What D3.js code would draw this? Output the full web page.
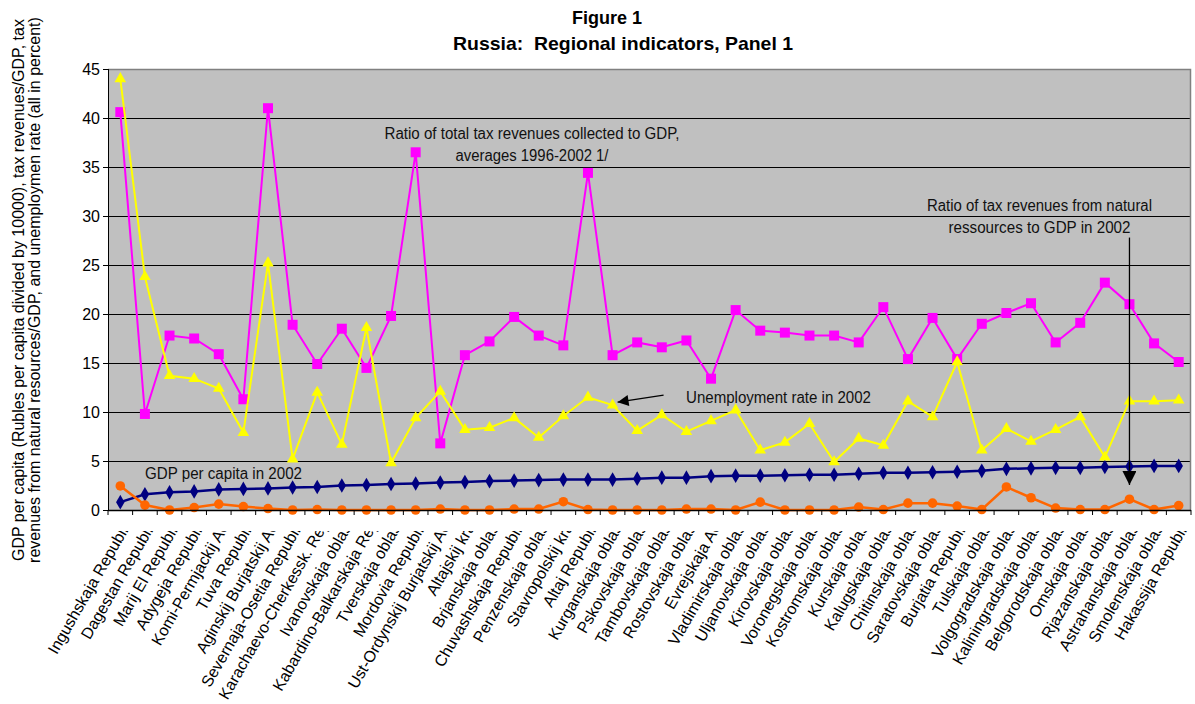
<!DOCTYPE html>
<html>
<head>
<meta charset="utf-8">
<script src="https://cdnjs.cloudflare.com/ajax/libs/d3/7.8.5/d3.min.js"></script>
<style>
  body { margin: 0; background: #fff; }
  svg { display: block; font-family: "Liberation Sans", Arial, sans-serif; }
  .axis text { font-size: 16px; fill: #000; }
  .axis .domain { display: none; }
  .cat-label { font-size: 16px; fill: #000; }
  .note { font-size: 16px; fill: #111; }
  .title { font-size: 19px; font-weight: bold; white-space: pre; }
  .y-title { font-size: 16px; }
</style>
</head>
<body>
<div id="chart"></div>
<script>
// Regions, sorted by GDP per capita
const regions = [
  'Ingushskaja Republic', 'Dagestan Republic', 'Marij El Republic', 'Adygeja Republic',
  'Komi-Permjackij AO', 'Tuva Republic', 'Aginskij Burjatskij AO', 'Severnaja-Osetia Republic',
  'Karachaevo-Cherkessk. Rep', 'Ivanovskaja oblast', 'Kabardino-Balkarskaja Rep', 'Tverskaja oblast',
  'Mordovia Republic', 'Ust-Ordynskij Burjatskij AO', 'Altajskij krai', 'Brjanskaja oblast',
  'Chuvashskaja Republic', 'Penzenskaja oblast', 'Stavropolskij krai', 'Altaj Republic',
  'Kurganskaja oblast', 'Pskovskaja oblast', 'Tambovskaja oblast', 'Rostovskaja oblast',
  'Evrejskaja AO', 'Vladimirskaja oblast', 'Uljanovskaja oblast', 'Kirovskaja oblast',
  'Voronegskaja oblast', 'Kostromskaja oblast', 'Kurskaja oblast', 'Kalugskaja oblast',
  'Chitinskaja oblast', 'Saratovskaja oblast', 'Burjatia Republic', 'Tulskaja oblast',
  'Volgogradskaja oblast', 'Kaliningradskaja oblast', 'Belgorodskaja oblast', 'Omskaja oblast',
  'Rjazanskaja oblast', 'Astrahanskaja oblast', 'Smolenskaja oblast', 'Hakassija Republic'
];

// Ratio of total tax revenues collected to GDP, averages 1996-2002
const taxRatio = [
  40.6, 9.8, 17.8, 17.5, 15.9, 11.3, 41.0, 18.9, 14.9, 18.5,
  14.5, 19.8, 36.5, 6.8, 15.8, 17.2, 19.7, 17.8, 16.8, 34.4,
  15.8, 17.1, 16.6, 17.3, 13.4, 20.4, 18.3, 18.1, 17.8, 17.8,
  17.1, 20.7, 15.4, 19.6, 15.4, 19.0, 20.1, 21.1, 17.1, 19.1,
  23.2, 21.0, 17.0, 15.1
];

// Unemployment rate in 2002
const unemployment = [
  44.0, 23.8, 13.7, 13.4, 12.4, 7.9, 25.2, 5.2, 12.0, 6.7,
  18.6, 4.8, 9.4, 12.1, 8.2, 8.4, 9.4, 7.4, 9.6, 11.5,
  10.7, 8.1, 9.7, 8.0, 9.1, 10.2, 6.1, 6.9, 8.8, 4.9,
  7.3, 6.6, 11.1, 9.5, 15.1, 6.1, 8.3, 7.0, 8.2, 9.5,
  5.4, 11.1, 11.1, 11.2
];

// GDP per capita in 2002 (rubles / 10000)
const gdpPerCapita = [
  0.8, 1.6, 1.8, 1.9, 2.1, 2.15, 2.2, 2.3, 2.35, 2.5,
  2.55, 2.65, 2.7, 2.8, 2.85, 2.95, 3.0, 3.05, 3.1, 3.1,
  3.1, 3.2, 3.3, 3.3, 3.45, 3.5, 3.5, 3.55, 3.6, 3.6,
  3.7, 3.8, 3.8, 3.85, 3.9, 4.0, 4.2, 4.25, 4.3, 4.3,
  4.4, 4.45, 4.5, 4.5
];

// Tax revenues from natural resources to GDP in 2002
const natResRatio = [
  2.45, 0.5, 0.0, 0.25, 0.6, 0.35, 0.15, 0.0, 0.05, 0.0,
  0.0, 0.0, 0.0, 0.1, 0.0, 0.0, 0.1, 0.1, 0.85, 0.05,
  0.0, 0.0, 0.0, 0.1, 0.1, 0.0, 0.8, 0.0, 0.0, 0.0,
  0.3, 0.05, 0.7, 0.7, 0.4, 0.05, 2.35, 1.25, 0.2, 0.05,
  0.05, 1.1, 0.05, 0.45
];

const yTicks = [0, 5, 10, 15, 20, 25, 30, 35, 40, 45];

class RegionalChart {

  constructor(_config) {
    this.config = {
      parentElement: _config.parentElement,
      containerWidth: _config.containerWidth || 1195,
      containerHeight: _config.containerHeight || 704,
      margin: _config.margin || {top: 69, right: 4, bottom: 194, left: 108},
      labelClipY: 531
    };
    // order = drawing order (bottom first)
    this.series = [
      {values: gdpPerCapita, color: '#000080', symbol: d3.symbolDiamond, size: 62, width: 2.5},
      {values: natResRatio, color: '#ff6600', symbol: d3.symbolCircle, size: 72, width: 2.5},
      {values: taxRatio, color: '#ff00ff', symbol: d3.symbolSquare, size: 100, width: 2},
      {values: unemployment, color: '#ffff00', symbol: d3.symbolTriangle, size: 58, width: 2}
    ];
    this.initVis();
  }

  initVis() {
    let vis = this;
    const m = vis.config.margin;
    vis.width = vis.config.containerWidth - m.left - m.right;
    vis.height = vis.config.containerHeight - m.top - m.bottom;

    vis.xScale = d3.scaleBand().domain(regions).range([0, vis.width]);
    vis.yScale = d3.scaleLinear().domain([0, 45]).range([vis.height, 0]);
    vis.bw = vis.xScale.bandwidth();

    vis.svg = d3.select(vis.config.parentElement).append('svg')
        .attr('width', vis.config.containerWidth)
        .attr('height', vis.config.containerHeight);

    const defs = vis.svg.append('defs');
    defs.append('clipPath').attr('id', 'label-clip')
      .append('rect')
        .attr('x', 0).attr('y', vis.config.labelClipY)
        .attr('width', vis.config.containerWidth)
        .attr('height', vis.config.containerHeight);

    defs.append('marker')
        .attr('id', 'head-small')
        .attr('viewBox', '0 0 10 10')
        .attr('refX', 10).attr('refY', 5)
        .attr('markerUnits', 'userSpaceOnUse')
        .attr('markerWidth', 14).attr('markerHeight', 11)
        .attr('orient', 'auto')
      .append('path').attr('d', 'M0,0L10,5L0,10Z').attr('fill', '#000');

    defs.append('marker')
        .attr('id', 'head-big')
        .attr('viewBox', '0 0 10 10')
        .attr('refX', 10).attr('refY', 5)
        .attr('markerUnits', 'userSpaceOnUse')
        .attr('markerWidth', 16).attr('markerHeight', 14)
        .attr('orient', 'auto')
      .append('path').attr('d', 'M0,0L10,5L0,10Z').attr('fill', '#000');

    // Titles
    vis.svg.append('text')
        .attr('class', 'title')
        .attr('x', 607).attr('y', 24)
        .attr('text-anchor', 'middle')
        .attr('textLength', 70).attr('lengthAdjust', 'spacingAndGlyphs')
        .text('Figure 1');
    vis.svg.append('text')
        .attr('class', 'title')
        .attr('x', 623).attr('y', 50)
        .attr('text-anchor', 'middle')
        .attr('textLength', 340).attr('lengthAdjust', 'spacingAndGlyphs')
        .text('Russia:  Regional indicators, Panel 1');

    // Y axis title in two lines
    const yTitle = [
      {text: 'GDP per capita (Rubles per capita divided by 10000), tax revenues/GDP, tax', x: 24},
      {text: 'revenues from natural resources/GDP, and unemploymen rate (all in percent)', x: 40}
    ];
    vis.svg.selectAll('.y-title')
        .data(yTitle)
        .join('text')
        .attr('class', 'y-title')
        .attr('transform', d => `translate(${d.x},290) rotate(-90)`)
        .attr('text-anchor', 'middle')
        .text(d => d.text);

    vis.chart = vis.svg.append('g')
        .attr('transform', `translate(${m.left},${m.top})`);

    vis.chart.append('rect')
        .attr('width', vis.width)
        .attr('height', vis.height)
        .attr('fill', '#c0c0c0');

    // Gridlines
    vis.chart.append('g')
        .attr('class', 'grid')
        .call(d3.axisLeft(vis.yScale).tickValues(yTicks.slice(1, -1)).tickSize(-vis.width).tickFormat(''))
        .call(g => g.select('.domain').remove())
        .call(g => g.selectAll('line').attr('stroke', '#000').attr('stroke-width', 1.2));

    // Plot frame, top and right
    vis.chart.append('path')
        .attr('d', `M0,0.5H${vis.width - 0.5}V${vis.height}`)
        .attr('fill', 'none')
        .attr('stroke', '#808080')
        .attr('stroke-width', 1.5);

    vis.renderVis();
  }

  renderVis() {
    let vis = this;
    const cx = i => vis.xScale(regions[i]) + vis.bw / 2;

    const line = d3.line()
        .x((d, i) => cx(i))
        .y(d => vis.yScale(d));

    const groups = vis.chart.selectAll('.series')
        .data(vis.series)
        .join('g')
        .attr('class', 'series');

    groups.append('path')
        .attr('d', d => line(d.values))
        .attr('fill', 'none')
        .attr('stroke', d => d.color)
        .attr('stroke-width', d => d.width);

    groups.each(function(s) {
      d3.select(this).selectAll('.pt')
          .data(s.values)
          .join('path')
          .attr('class', 'pt')
          .attr('transform', (d, i) => `translate(${cx(i)},${vis.yScale(d)})`)
          .attr('d', d3.symbol().type(s.symbol).size(s.size))
          .attr('fill', s.color);
    });

    // Y axis
    vis.chart.append('g')
        .attr('class', 'axis y-axis')
        .call(d3.axisLeft(vis.yScale).tickValues(yTicks).tickSize(5).tickPadding(3))
        .call(g => g.selectAll('line').attr('stroke', '#000'));
    vis.chart.append('line')
        .attr('x1', 0.5).attr('x2', 0.5)
        .attr('y1', 0).attr('y2', vis.height)
        .attr('stroke', '#000');

    // X axis line and ticks at category boundaries
    vis.chart.append('line')
        .attr('x1', 0).attr('x2', vis.width)
        .attr('y1', vis.height + 0.5).attr('y2', vis.height + 0.5)
        .attr('stroke', '#000').attr('stroke-width', 1.5);
    const bounds = regions.map(r => vis.xScale(r)).concat([vis.width]);
    vis.chart.selectAll('.x-tick')
        .data(bounds)
        .join('line')
        .attr('class', 'x-tick')
        .attr('x1', d => d).attr('x2', d => d)
        .attr('y1', vis.height).attr('y2', vis.height + 5)
        .attr('stroke', '#000');

    // Category labels, clipped at the top like the original
    const m = vis.config.margin;
    vis.svg.append('g')
        .attr('clip-path', 'url(#label-clip)')
      .selectAll('.cat-label')
        .data(regions)
        .join('text')
        .attr('class', 'cat-label')
        .attr('text-anchor', 'end')
        .attr('transform', d => `translate(${m.left + vis.xScale(d) + vis.bw / 2 + 12.5},${m.top + vis.height + 13.5}) rotate(-60)`)
        .text(d => d);

    // Annotations
    const notes = vis.chart.append('g').attr('class', 'notes');
    const addNote = (lines, x, y, lh) => {
      notes.selectAll(null)
          .data(lines)
          .join('text')
          .attr('class', 'note')
          .attr('text-anchor', 'middle')
          .attr('x', x)
          .attr('y', (d, i) => y + i * lh)
          .attr('textLength', d => d.len)
          .attr('lengthAdjust', 'spacingAndGlyphs')
          .text(d => d.text);
    };
    addNote([
      {text: 'Ratio of total tax revenues collected to GDP,', len: 295},
      {text: 'averages 1996-2002 1/', len: 153}
    ], 424, 70, 21.7);
    addNote([
      {text: 'Ratio of tax revenues from natural', len: 225},
      {text: 'ressources to GDP in 2002', len: 182}
    ], 931.5, 141.7, 22);
    notes.append('text').attr('class', 'note')
        .attr('x', 578).attr('y', 334)
        .attr('textLength', 185).attr('lengthAdjust', 'spacingAndGlyphs')
        .text('Unemployment rate in 2002');
    notes.append('text').attr('class', 'note')
        .attr('x', 37).attr('y', 410)
        .attr('textLength', 157).attr('lengthAdjust', 'spacingAndGlyphs')
        .text('GDP per capita in 2002');

    // Arrow to unemployment line (Kurganskaja oblast)
    const iK = regions.indexOf('Kurganskaja oblast');
    notes.append('line')
        .attr('x1', cx(iK) + 51).attr('y1', vis.yScale(10.7) - 10)
        .attr('x2', cx(iK) + 5).attr('y2', vis.yScale(10.7) - 3)
        .attr('stroke', '#000').attr('stroke-width', 1.3)
        .attr('marker-end', 'url(#head-small)');

    // Arrow to natural resources line (Astrahanskaja oblast)
    const iA = regions.indexOf('Astrahanskaja oblast');
    notes.append('line')
        .attr('x1', cx(iA)).attr('y1', vis.yScale(27.8))
        .attr('x2', cx(iA)).attr('y2', vis.yScale(2.55))
        .attr('stroke', '#000').attr('stroke-width', 1.3)
        .attr('marker-end', 'url(#head-big)');
  }
}

new RegionalChart({parentElement: '#chart'});
</script>
</body>
</html>
